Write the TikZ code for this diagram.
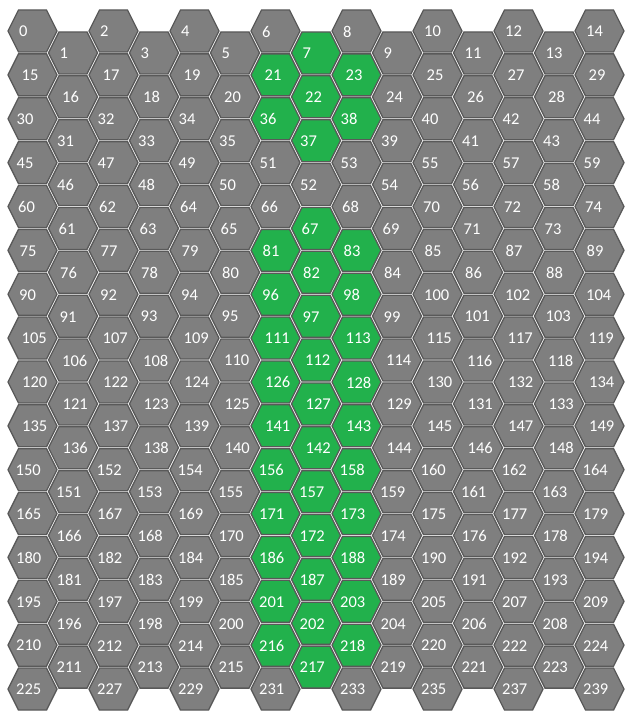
\documentclass[tikz,border=0pt]{standalone}
\usepackage{fontspec}
\setmainfont{Carlito}
\definecolor{cHex}{RGB}{127,127,127}
\definecolor{cEdge}{RGB}{89,89,89}
\definecolor{cPick}{RGB}{34,177,76}
\tikzset{
  hexcell/.style={fill=cHex,draw=cEdge,line width=1.3bp,line join=miter},
  hexpick/.style={hexcell,fill=cPick},
  cellnum/.style={text=white,anchor=west,inner sep=0pt,
    font=\fontsize{16.5bp}{19bp}\selectfont}
}
% one flat-topped cell, started from its centre
\newcommand{\hexcellpath}{++(-24.5,0) -- ++(10.5,-21) -- ++(28,0) -- ++(10.5,21)
  -- ++(-10.5,21) -- ++(-28,0) -- cycle}

\begin{document}
\begin{tikzpicture}[x=1bp,y=-1bp]
  \useasboundingbox (0,0) rectangle (628,721);
  \foreach \r in {0,...,15}{
    \foreach \c in {0,...,14}{
      \pgfmathtruncatemacro{\n}{15*\r+\c}
      \pgfmathtruncatemacro{\odd}{mod(\c,2)}
      \pgfmathtruncatemacro{\skip}{(\r==15)&&(\odd==1)}
      \pgfmathtruncatemacro{\pick}{((\c==7)&&(\r!=3)) || (((\c==6)||(\c==8)) && ((\r==1)||(\r==2)||((\r>4)&&(\r<15))))}
      \pgfmathsetmacro{\cx}{32.5+40.5*\c}
      \pgfmathsetmacro{\cy}{31+43.87*\r+21.94*\odd}
      \pgfmathsetmacro{\dx}{{-13.5,-11,-16,-16,-14.5,-13,-13.5,-11,-10.5,-10.5,-17,-16.5,-16.5,-16.5,-16.5,-16.5}[\r]}
      \ifnum\skip=0
        \ifnum\pick=1
          \draw[hexpick] (\cx,\cy) \hexcellpath;
        \else
          \draw[hexcell] (\cx,\cy) \hexcellpath;
        \fi
        \node[cellnum] (n-\n) at (\cx+\dx,\cy+0.5) {\n};
      \fi
    }
  }
\end{tikzpicture}
\end{document}
